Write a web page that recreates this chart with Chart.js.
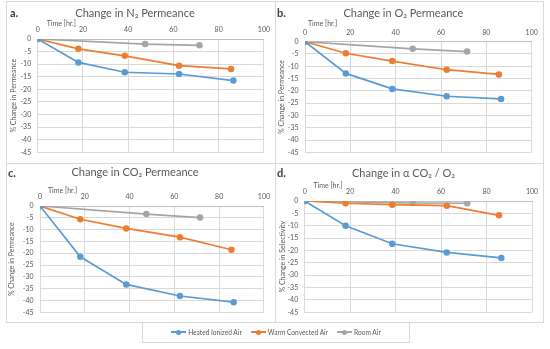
<!DOCTYPE html>
<html>
<head>
<meta charset="utf-8">
<script src="https://cdn.jsdelivr.net/npm/chart.js@4.4.1/dist/chart.umd.min.js"></script>
<style>
  html, body { margin: 0; padding: 0; background: #fff; }
  body { width: 550px; height: 349px; position: relative; overflow: hidden; font-family: Lato, "Noto Sans", sans-serif; }
  .panel { position: absolute; }
  canvas { display: block; }
  #frame { position: absolute; left: 6px; top: 1px; width: 538px; height: 322px; border: 1px solid #d9d9d9; box-sizing: border-box; }
  #vline { position: absolute; left: 275px; top: 1px; width: 1px; height: 322px; background: #d9d9d9; }
  #hline { position: absolute; left: 6px; top: 163px; width: 538px; height: 1px; background: #d9d9d9; }
  #legend { position: absolute; left: 142px; top: 322px; width: 268px; height: 21px; border: 1px solid #d9d9d9; border-top: none; box-sizing: border-box;
            display: flex; align-items: center; justify-content: center; gap: 9px; font-size: 6.6px; color: #595959; }
  .item { display: flex; align-items: center; }
  .mk { position: relative; width: 15px; height: 8px; margin-right: 2px; }
  .mk .ln { position: absolute; left: 0; right: 0; top: 3px; height: 1.6px; }
  .mk .dt { position: absolute; left: 5px; top: 1.5px; width: 5px; height: 5px; border-radius: 50%; }
</style>
</head>
<body>
<div id="frame"></div>
<div id="vline"></div>
<div id="hline"></div>
<div class="panel" style="left:6px;top:2px"><canvas id="ca" width="269" height="161"></canvas></div>
<div class="panel" style="left:275px;top:2px"><canvas id="cb" width="269" height="161"></canvas></div>
<div class="panel" style="left:6px;top:163px"><canvas id="cc" width="269" height="160"></canvas></div>
<div class="panel" style="left:275px;top:163px"><canvas id="cd" width="269" height="160"></canvas></div>
<div id="legend"></div>
<script>
// ---- data ----
const seriesNames = ["Heated Ionized Air", "Warm Convected Air", "Room Air"];
const seriesColors = ["#5B9BD5", "#ED7D31", "#A5A5A5"];
const timeHeated = [0, 18, 38.5, 62.5, 86.5];
const timeWarm = [0, 18, 38.5, 62.5, 85.5];
const timeRoom = [0, 47.5, 71.5];
const xTicks = [0, 20, 40, 60, 80, 100];
const yTicks = [0, -5, -10, -15, -20, -25, -30, -35, -40, -45];

const n2Heated = [0, -9.3, -13.2, -13.9, -16.5];
const n2Warm = [0, -3.9, -6.7, -10.6, -11.9];
const n2Room = [0, -2.0, -2.5];

const o2Heated = [0, -12.9, -19.2, -22.2, -23.3];
const o2Warm = [0, -4.7, -7.9, -11.4, -13.3];
const o2Room = [0, -2.9, -4.0];

const co2Heated = [0, -21.5, -33.2, -38.1, -40.7];
const co2Warm = [0, -5.6, -9.5, -13.2, -18.5];
const co2Room = [0, -3.4, -4.9];

const selHeated = [0, -10.0, -17.3, -20.8, -23.0];
const selWarm = [0, -0.9, -1.5, -1.9, -5.8];
const selRoom = [0, -0.8, -0.9];

const panelLetters = ["a.", "b.", "c.", "d."];
const panelTitles = ["Change in N\u2082 Permeance", "Change in O\u2082 Permeance", "Change in CO\u2082 Permeance", "Change in \u03b1 CO\u2082 / O\u2082"];
const yTitles = ["% Change in Permeance", "% Change in Permeance", "% Change in Permeance", "% Change in Selectivity"];
const xTitle = "Time [hr.]";

// ---- helpers ----
const FONT = "Lato, 'Noto Sans', sans-serif";
const TXT = "#595959";
function pts(xs, ys) { return xs.map((x, i) => ({ x: x, y: ys[i] })); }

const extraText = {
  id: 'extraText',
  afterDraw(chart) {
    const o = chart.options.plugins.extraText;
    const ctx = chart.ctx;
    ctx.save();
    ctx.fillStyle = '#404040';
    ctx.font = "bold 11px " + FONT;
    ctx.textBaseline = 'middle';
    ctx.textAlign = 'left';
    ctx.fillText(o.letter, o.lx, o.ly);
    ctx.fillStyle = TXT;
    ctx.font = "7px " + FONT;
    ctx.fillText(o.xt, chart.chartArea.left + o.tx, o.ty);
    ctx.restore();
  }
};

function makePanel(id, idx, heated, warm, room, g) {
  const lists = [[timeHeated, heated], [timeWarm, warm], [timeRoom, room]];
  const datasets = lists.map((l, i) => ({
    label: seriesNames[i],
    data: pts(l[0], l[1]),
    borderColor: seriesColors[i],
    backgroundColor: seriesColors[i],
    borderWidth: 1.7,
    pointRadius: 2.4,
    pointHoverRadius: 2.4,
    showLine: true,
    fill: false,
    tension: 0
  }));
  new Chart(document.getElementById(id), {
    type: 'scatter',
    data: { datasets: datasets },
    plugins: [extraText],
    options: {
      responsive: false,
      animation: false,
      layout: { padding: { left: 0, right: g.padR, top: 0, bottom: g.padB } },
      plugins: {
        legend: { display: false },
        tooltip: { enabled: false },
        title: {
          display: true, text: panelTitles[idx], color: TXT,
          font: { family: FONT, size: 11, weight: 'normal', lineHeight: 1.2 },
          padding: { top: g.titleY - 6.6, bottom: 0 }
        },
        extraText: { letter: panelLetters[idx], lx: g.lx, ly: g.ly, xt: xTitle, tx: g.tx, ty: g.ty }
      },
      scales: {
        x: {
          type: 'linear', position: 'top', min: 0, max: 100,
          afterBuildTicks: (s) => { s.ticks = xTicks.map(v => ({ value: v })); },
          afterFit: (s) => { s.height = g.T - (g.titleY - 6.6 + 13.2); },
          grid: { color: '#d9d9d9', drawTicks: false, lineWidth: 1 },
          border: { color: '#bfbfbf' },
          ticks: { color: TXT, font: { family: FONT, size: 7 }, padding: 5, maxRotation: 0 }
        },
        y: {
          type: 'linear', min: -45, max: 0,
          afterBuildTicks: (s) => { s.ticks = yTicks.map(v => ({ value: v })); },
          afterFit: (s) => { s.width = g.L; },
          grid: { color: '#d9d9d9', drawTicks: false, lineWidth: 1 },
          border: { color: '#d9d9d9' },
          ticks: { color: TXT, font: { family: FONT, size: 7 }, padding: 6.5 },
          title: { display: true, text: yTitles[idx], color: TXT, font: { family: FONT, size: 7 }, padding: { top: g.yt - 4.2, bottom: 0 } }
        }
      }
    }
  });
}

makePanel('ca', 0, n2Heated, n2Warm, n2Room, { L: 31.7, T: 37, padR: 11, padB: 6, titleY: 11, lx: 4, ly: 11, tx: 9, ty: 21.3, yt: 8 });
makePanel('cb', 1, o2Heated, o2Warm, o2Room, { L: 30, T: 39.7, padR: 12.3, padB: 4.3, titleY: 11.3, lx: 2, ly: 11.7, tx: 3, ty: 22, yt: 6.7 });
makePanel('cc', 2, co2Heated, co2Warm, co2Room, { L: 34, T: 43, padR: 11, padB: 6.5, titleY: 9.3, lx: 2, ly: 10, tx: 8, ty: 27.7, yt: 5.7 });
makePanel('cd', 3, selHeated, selWarm, selRoom, { L: 29.7, T: 38, padR: 12, padB: 7, titleY: 10.3, lx: 2, ly: 10, tx: 8.7, ty: 23, yt: 7.3 });

// ---- legend ----
const lg = document.getElementById('legend');
seriesNames.forEach((nm, i) => {
  const it = document.createElement('div');
  it.className = 'item';
  it.innerHTML = '<div class="mk"><div class="ln" style="background:' + seriesColors[i] + '"></div><div class="dt" style="background:' + seriesColors[i] + '"></div></div><span>' + nm + '</span>';
  lg.appendChild(it);
});
</script>
</body>
</html>
